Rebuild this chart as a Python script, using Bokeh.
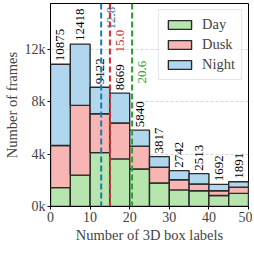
import math
from bokeh.plotting import figure
from bokeh.models import ColumnDataSource, Span, FixedTicker
from bokeh.core.properties import value
from bokeh.embed import file_html
from bokeh.resources import INLINE

# ---- data ----
bin_left = [0, 5, 10, 15, 20, 25, 30, 35, 40, 45]
bin_width = 5
day = [1440, 2400, 4120, 3640, 2870, 1800, 1270, 1200, 840, 1005]
dusk = [3230, 5330, 2970, 2750, 1750, 1200, 770, 520, 360, 480]
totals = [10875, 12418, 9122, 8669, 5840, 3817, 2742, 2513, 1692, 1891]
night = [t - a - b for t, a, b in zip(totals, day, dusk)]
series = ["Day", "Dusk", "Night"]
means = [12.8, 15.0, 20.6]
mean_labels = ["12.8", "15.0", "20.6"]
mean_label_y = [14400, 12650, 10280]
x_ticks = [0, 10, 20, 30, 40, 50]
y_ticks = [0, 4000, 8000, 12000]
y_tick_labels = ["0k", "4k", "8k", "12k"]

FONT = "Liberation Serif"
fills = ["#b6e6ae", "#f7b6b3", "#b1d7ee"]
line_cols = ["#1f77b4", "#d62728", "#2ca02c"]

centers = [b + bin_width / 2 for b in bin_left]
src = ColumnDataSource(dict(x=centers, Day=day, Dusk=dusk, Night=night,
                            total=totals, lbl=[str(t) for t in totals]))
msrc = ColumnDataSource(dict(x=means, y=mean_label_y, lbl=mean_labels,
                             c=line_cols))

p = figure(frame_width=198, frame_height=203, x_range=(0, 50),
           y_range=(0, max(totals) * 1.25), output_backend="svg",
           toolbar_location=None, min_border_left=2, min_border_right=4,
           min_border_top=3, min_border_bottom=2)

p.vbar_stack(series, x="x", width=bin_width, source=src, fill_color=fills,
             line_color="#2a2a2a", line_width=1.4, legend_label=series)

p.text(x="x", y="total", text="lbl", source=src, angle=math.pi / 2,
       text_align="left", text_baseline="middle", y_offset=-3,
       text_font=value(FONT), text_font_size="13px", text_color="black")

for m, c in zip(means, line_cols):
    p.add_layout(Span(location=m, dimension="height", line_color=c,
                      line_width=2, line_dash="6 3"))

p.text(x="x", y="y", text="lbl", source=msrc, angle=math.pi / 2,
       text_align="center", text_baseline="middle", x_offset=10,
       text_color="c", text_font=value(FONT), text_font_size="13px")

p.xgrid.visible = False
p.ygrid.grid_line_color = "#cccccc"
p.ygrid.grid_line_dash = "3 2"
p.ygrid.grid_line_width = 0.8

p.xaxis.ticker = FixedTicker(ticks=x_ticks)
p.yaxis.ticker = FixedTicker(ticks=y_ticks)
p.yaxis.major_label_overrides = {t: l for t, l in zip(y_ticks, y_tick_labels)}
p.xaxis.axis_label = "Number of 3D box labels"
p.yaxis.axis_label = "Number of frames"
for ax in (p.xaxis[0], p.yaxis[0]):
    ax.axis_label_text_font = FONT
    ax.axis_label_text_font_style = "normal"
    ax.axis_label_text_font_size = "14.5px"
    ax.major_label_text_font = FONT
    ax.major_label_text_font_size = "14px"
    ax.major_tick_in = 0
    ax.major_tick_out = 3
    ax.minor_tick_line_color = None
    ax.axis_line_color = "black"
    ax.major_label_standoff = 2
    ax.axis_label_standoff = 2
p.yaxis.major_label_orientation = "horizontal"

p.outline_line_color = "black"
p.outline_line_width = 1
p.outline_line_alpha = 1

lg = p.legend[0]
lg.location = "top_right"
lg.margin = 6
lg.padding = 6
lg.spacing = 3
lg.glyph_width = 29
lg.glyph_height = 11
lg.label_text_font = FONT
lg.label_text_font_size = "14.5px"
lg.border_line_color = "#cccccc"
lg.background_fill_alpha = 0.85
lg.label_standoff = 8

open("out.html", "w").write(file_html(p, INLINE))
